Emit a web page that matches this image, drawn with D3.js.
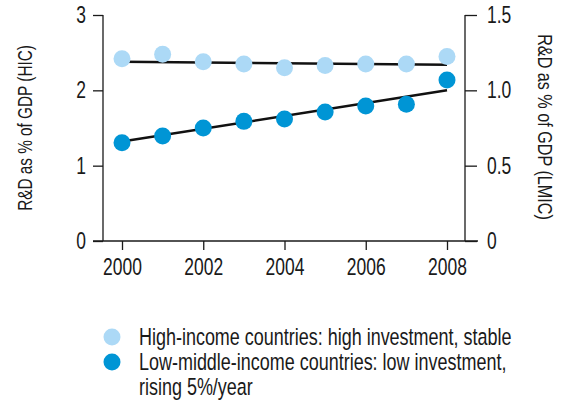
<!DOCTYPE html>
<html>
<head>
<meta charset="utf-8">
<script src="https://cdn.jsdelivr.net/npm/d3@7"></script>
<style>
  body { margin: 0; background: #fff; }
  text { font-family: "Liberation Sans", Arial, sans-serif; fill: #1a1a1a; }
</style>
</head>
<body>
<svg width="564" height="402"></svg>
<script>
// data
var years = [2000, 2001, 2002, 2003, 2004, 2005, 2006, 2007, 2008];
var hic = [2.42, 2.48, 2.38, 2.35, 2.30, 2.33, 2.35, 2.35, 2.45];          // left axis
var lmic = [0.652, 0.697, 0.75, 0.794, 0.81, 0.856, 0.896, 0.907, 1.069]; // right axis
var hicTrend = [2.38, 2.34];   // at 2000 and 2008
var lmicTrend = [0.66, 1.0];
var xTicks = [2000, 2002, 2004, 2006, 2008];
var leftTicks = [0, 1, 2, 3];
var rightTicks = [0, 0.5, 1.0, 1.5];
var legendLabels = [
  ["High-income countries: high investment, stable"],
  ["Low-middle-income countries: low investment,", "rising 5%/year"]
];

var lightBlue = "#acd9f6", darkBlue = "#0095d5";

// squeeze text horizontally so it looks like the condensed face of the original
function condense(sel, s) {
  sel.each(function() {
    var t = d3.select(this);
    var x0 = +(t.attr("x") || 0);
    var tr = t.attr("transform") || "";
    t.attr("x", x0 / s).attr("transform", tr + " scale(" + s + ",1)");
  });
}

var svg = d3.select("svg");
var x = d3.scaleLinear().domain([2000, 2008]).range([122, 447]);
var yL = d3.scaleLinear().domain([0, 3]).range([241, 15]);
var yR = d3.scaleLinear().domain([0, 1.5]).range([241, 15]);
var axisLeftX = 103, axisRightX = 465;

// x axis
var gx = svg.append("g").attr("transform", "translate(0,241)");
gx.append("line").attr("x1", 93).attr("x2", 478).attr("stroke", "#1a1a1a").attr("stroke-width", 1.3);
gx.append("g")
  .call(d3.axisBottom(x).tickValues(xTicks).tickFormat(d3.format("d")).tickSize(9).tickPadding(9))
  .call(function(a) {
    a.select(".domain").remove();
    a.selectAll("line").attr("stroke", "#1a1a1a").attr("stroke-width", 1.3);
    a.selectAll("text").style("font-size", "23px").attr("fill", "#1a1a1a").call(condense, 0.76);
  });

// left axis
svg.append("g").attr("transform", "translate(" + axisLeftX + ",0)")
  .call(d3.axisLeft(yL).tickValues(leftTicks).tickFormat(d3.format("d")).tickSize(10).tickPadding(7))
  .call(function(a) {
    a.select(".domain").attr("d", "M0,15V241").attr("stroke", "#1a1a1a").attr("stroke-width", 1.3);
    a.selectAll("line").attr("stroke", "#1a1a1a").attr("stroke-width", 1.3);
    a.selectAll("text").style("font-size", "23px").attr("fill", "#1a1a1a").call(condense, 0.76);
  });

// right axis
svg.append("g").attr("transform", "translate(" + axisRightX + ",0)")
  .call(d3.axisRight(yR).tickValues(rightTicks).tickFormat(function(d) { return d === 0 ? "0" : d3.format(".1f")(d); }).tickSize(12).tickPadding(10))
  .call(function(a) {
    a.select(".domain").attr("d", "M0,15V241").attr("stroke", "#1a1a1a").attr("stroke-width", 1.3);
    a.selectAll("line").attr("stroke", "#1a1a1a").attr("stroke-width", 1.3);
    a.selectAll("text").style("font-size", "23px").attr("fill", "#1a1a1a").call(condense, 0.76);
  });

// axis titles
svg.append("text")
  .attr("transform", "translate(32,128)rotate(-90)")
  .attr("text-anchor", "middle")
  .style("font-size", "21px")
  .text("R&D as % of GDP (HIC)")
  .call(condense, 0.73);
svg.append("text")
  .attr("transform", "translate(538,127)rotate(90)")
  .attr("text-anchor", "middle")
  .style("font-size", "21px")
  .text("R&D as % of GDP (LMIC)")
  .call(condense, 0.77);

// trend lines
svg.append("line")
  .attr("x1", x(2000)).attr("x2", x(2008))
  .attr("y1", yL(hicTrend[0])).attr("y2", yL(hicTrend[1]))
  .attr("stroke", "#111").attr("stroke-width", 2.5);
svg.append("line")
  .attr("x1", x(2000)).attr("x2", x(2008))
  .attr("y1", yR(lmicTrend[0])).attr("y2", yR(lmicTrend[1]))
  .attr("stroke", "#111").attr("stroke-width", 2.5);

// dots
svg.append("g").selectAll("circle")
  .data(years)
  .enter().append("circle")
  .attr("cx", function(d) { return x(d); })
  .attr("cy", function(d, i) { return yL(hic[i]); })
  .attr("r", 8.5)
  .attr("fill", lightBlue);
svg.append("g").selectAll("circle")
  .data(years)
  .enter().append("circle")
  .attr("cx", function(d) { return x(d); })
  .attr("cy", function(d, i) { return yR(lmic[i]); })
  .attr("r", 8.5)
  .attr("fill", darkBlue);

// legend
var legendColors = [lightBlue, darkBlue];
var legendY = [337, 362];
legendLabels.forEach(function(lines, i) {
  svg.append("circle").attr("cx", 112).attr("cy", legendY[i]).attr("r", 8.5).attr("fill", legendColors[i]);
  lines.forEach(function(t, j) {
    svg.append("text")
      .attr("x", 139).attr("y", legendY[i] + 8 + j * 25)
      .style("font-size", "23.5px")
      .text(t)
      .call(condense, 0.765);
  });
});
</script>
</body>
</html>
